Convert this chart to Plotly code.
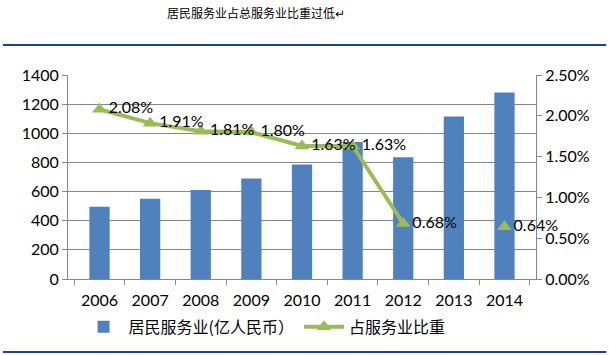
import plotly.graph_objects as go

years = ["2006", "2007", "2008", "2009", "2010", "2011", "2012", "2013", "2014"]
service_value = [495, 550, 610, 690, 785, 940, 835, 1115, 1280]
share_pct = [2.08, 1.91, 1.81, 1.80, 1.63, 1.63, 0.68, None, 0.64]
bar_name = "居民服务业(亿人民币）"
line_name = "占服务业比重"
title_text = "居民服务业占总服务业比重过低↵"

share_text = ["" if v is None else f"{v:.2f}%" for v in share_pct]

num_font = "Lato, 'Open Sans', sans-serif"
cjk_font = "'Noto Sans CJK SC', sans-serif"

fig = go.Figure()
fig.add_trace(go.Bar(
    x=years, y=service_value, name=bar_name,
    marker=dict(color="#4F81BD", line=dict(width=0)),
    width=0.4,
))
fig.add_trace(go.Scatter(
    x=years, y=share_pct, name=line_name, yaxis="y2",
    mode="lines+markers+text", connectgaps=False,
    line=dict(color="#9BBB59", width=4),
    marker=dict(symbol="triangle-up", size=13, color="#9BBB59"),
    text=share_text, textposition="middle right",
    textfont=dict(family=num_font, size=16, color="#000000"),
    cliponaxis=False,
))

axis_gray = "#868686"
fig.update_layout(
    width=609, height=355, autosize=False,
    margin=dict(l=68, r=73, t=75, b=76, autoexpand=False),
    paper_bgcolor="white", plot_bgcolor="white",
    showlegend=True,
    legend=dict(orientation="h", x=0.42, y=-0.235, xanchor="center", yanchor="middle",
                font=dict(family=cjk_font, size=16, color="#000000"),
                itemwidth=40, tracegroupgap=0, bgcolor="rgba(0,0,0,0)"),
    xaxis=dict(type="category", showline=True, linecolor=axis_gray, linewidth=1,
               ticks="outside", tickson="boundaries", ticklen=5, tickcolor=axis_gray,
               ticklabelstandoff=7,
               tickfont=dict(family=num_font, size=16, color="#000000"),
               showgrid=False),
    yaxis=dict(range=[0, 1400], dtick=200, showgrid=True, gridcolor=axis_gray, gridwidth=1,
               showline=True, linecolor=axis_gray, ticks="outside", ticklen=5, tickcolor=axis_gray,
               tickfont=dict(family=num_font, size=16, color="#000000"), zeroline=False),
    yaxis2=dict(range=[0, 2.5], dtick=0.5, overlaying="y", side="right", showgrid=False,
                showline=True, linecolor=axis_gray, ticks="outside", ticklen=5, tickcolor=axis_gray,
                tickformat=".2f", ticksuffix="%",
                tickfont=dict(family=num_font, size=16, color="#000000"), zeroline=False),
    bargap=0.6,
)

fig.add_annotation(text=title_text, xref="paper", yref="paper", x=0.402, y=1.304,
                   showarrow=False, xanchor="center", yanchor="middle",
                   font=dict(family=cjk_font, size=12, color="#000000"))

for yp in [1.147, -0.358]:
    fig.add_shape(type="line", xref="paper", yref="paper", x0=-0.139, x1=1.15, y0=yp, y1=yp,
                  line=dict(color="#1F3F8F", width=2))

fig.write_html("out.html", config={"displayModeBar": False},
               post_script="document.body.style.margin='0';document.body.style.overflow='hidden';")
